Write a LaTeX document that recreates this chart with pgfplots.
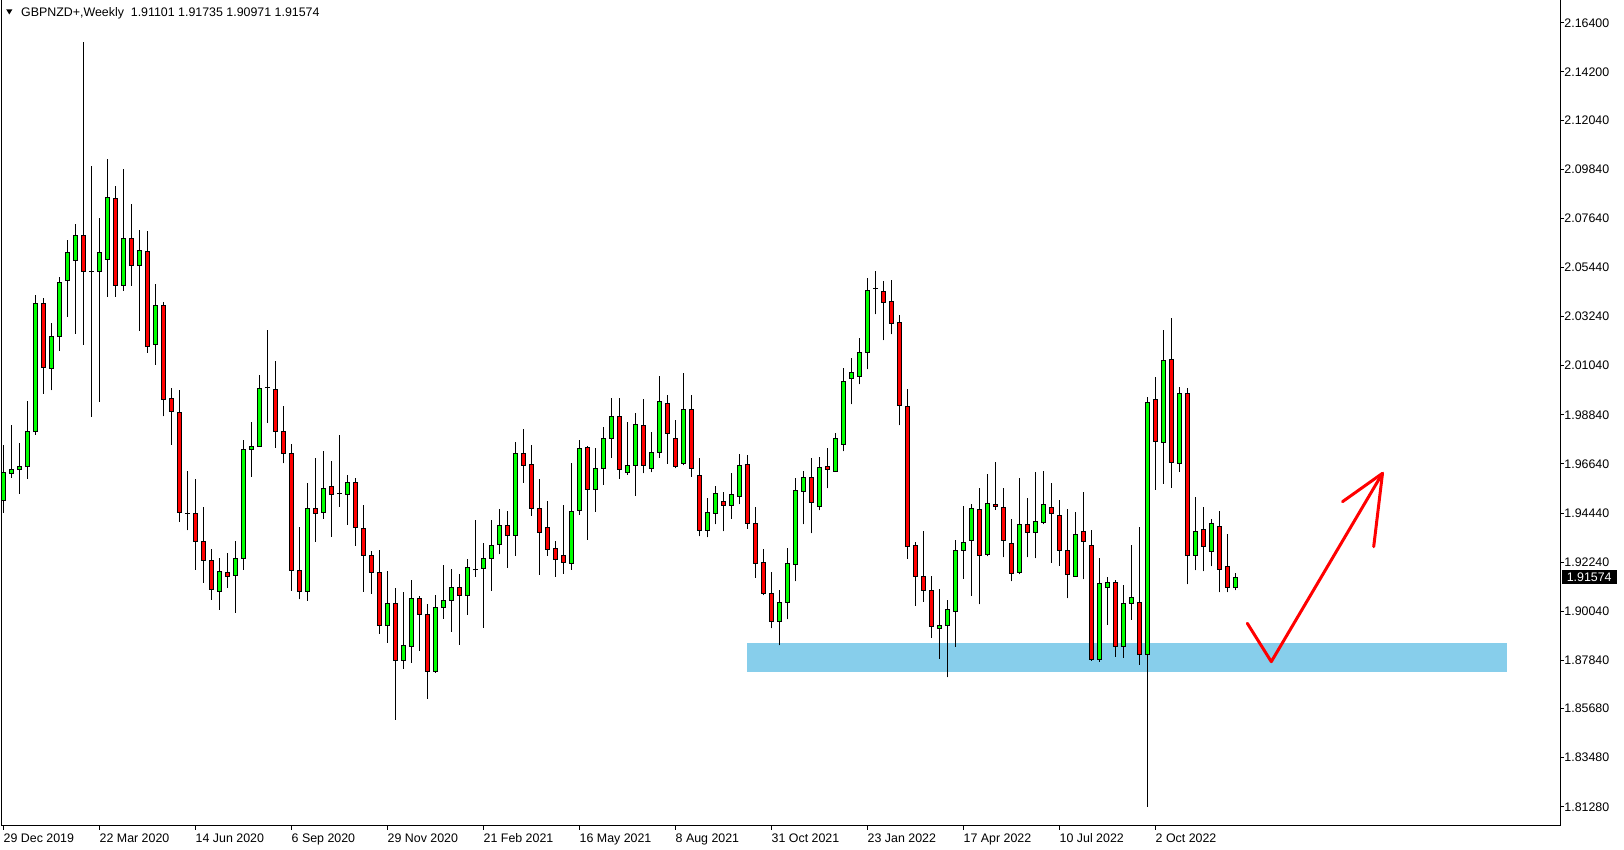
\documentclass[border=0pt]{standalone}
\usepackage{pgfplots}
\pgfplotsset{compat=1.18}
\usepackage{pgfplotstable}
\usepackage{fontspec}
\setmainfont{Liberation Sans}
\definecolor{bull}{RGB}{0,255,0}
\definecolor{bear}{RGB}{255,0,0}
\definecolor{zone}{RGB}{135,206,235}

\pgfplotstableread{
x O H L C
0 1.95007 1.97485 1.94451 1.96254
1 1.96221 1.98378 1.96018 1.96406
2 1.96406 1.97569 1.95310 1.96541
3 1.96524 1.99457 1.95985 1.98092
4 1.98092 2.04210 1.97957 2.03823
5 2.03823 2.04092 1.99794 2.00957
6 2.00924 2.02946 1.99929 2.02356
7 2.02339 2.05003 2.01716 2.04767
8 2.04868 2.06671 2.03233 2.06115
9 2.05761 2.07379 2.02474 2.06874
10 2.06874 2.15538 2.01985 2.05272
11 2.05272 2.09992 1.98749 2.05272
12 2.05272 2.07649 1.99423 2.06115
13 2.05812 2.10295 2.04126 2.08576
14 2.08542 2.09082 2.04126 2.04649
15 2.04649 2.09857 2.04396 2.06739
16 2.06739 2.08290 2.04632 2.05525
17 2.05525 2.07110 2.02609 2.06199
18 2.06166 2.07076 2.01631 2.01918
19 2.02002 2.04699 2.01092 2.03738
20 2.03738 2.03907 1.98766 1.99524
21 1.99575 2.00047 1.97502 1.99002
22 1.98951 1.99946 1.94046 1.94468
23 1.94434 1.96322 1.93659 1.94434
24 1.94428 1.95966 1.91905 1.93174
25 1.93174 1.94712 1.91322 1.92323
26 1.92323 1.92830 1.90561 1.91024
27 1.90934 1.92427 1.90113 1.91830
28 1.91785 1.92651 1.91099 1.91606
29 1.91651 1.93189 1.89979 1.92412
30 1.92412 1.97712 1.91905 1.97294
31 1.97294 1.98519 1.96055 1.97399
32 1.97429 2.00624 1.97429 2.00027
33 2.00057 2.02639 1.98489 2.00057
34 1.99982 2.01251 1.97369 1.98101
35 1.98101 1.99235 1.96667 1.97115
36 1.97115 1.97533 1.90964 1.91875
37 1.91875 1.93816 1.90576 1.90934
38 1.90934 1.95801 1.90516 1.94652
39 1.94652 1.96906 1.93159 1.94428
40 1.94473 1.97220 1.94174 1.95548
41 1.95637 1.96772 1.93383 1.95279
42 1.95309 1.97936 1.94726 1.95309
43 1.95279 1.96145 1.93920 1.95816
44 1.95816 1.95996 1.92980 1.93801
45 1.93756 1.94801 1.90919 1.92547
46 1.92547 1.92726 1.90830 1.91785
47 1.91785 1.92786 1.89038 1.89411
48 1.89411 1.91845 1.88635 1.90397
49 1.90397 1.91084 1.85171 1.87844
50 1.87844 1.90904 1.87471 1.88516
51 1.88471 1.91442 1.87739 1.90621
52 1.90621 1.90710 1.88277 1.89904
53 1.89904 1.90367 1.86127 1.87351
54 1.87351 1.90770 1.87291 1.90218
55 1.90218 1.92114 1.89710 1.90531
56 1.90531 1.91935 1.89128 1.91113
57 1.91113 1.91711 1.88545 1.90755
58 1.90755 1.92382 1.89889 1.92009
59 1.91890 1.94129 1.91591 1.91890
60 1.91964 1.93099 1.89307 1.92412
61 1.92412 1.94129 1.90964 1.92995
62 1.93039 1.94622 1.92592 1.93890
63 1.93890 1.94532 1.91994 1.93443
64 1.93443 1.97623 1.92532 1.97115
65 1.97115 1.98205 1.95801 1.96578
66 1.96623 1.97489 1.94323 1.94652
67 1.94652 1.95966 1.91681 1.93577
68 1.93801 1.94980 1.92532 1.92815
69 1.92861 1.93189 1.91592 1.92368
70 1.92547 1.94802 1.91726 1.92234
71 1.92189 1.96683 1.91905 1.94518
72 1.94563 1.97713 1.94369 1.97340
73 1.97384 1.97429 1.93249 1.95503
74 1.95503 1.97340 1.94503 1.96444
75 1.96444 1.98280 1.95712 1.97788
76 1.97788 1.99594 1.96922 1.98773
77 1.98773 1.99594 1.95981 1.96399
78 1.96265 1.98519 1.96160 1.96578
79 1.96578 1.98922 1.95220 1.98415
80 1.98370 1.99534 1.96220 1.96578
81 1.96444 1.98071 1.96265 1.97160
82 1.97160 2.00579 1.96922 1.99445
83 1.99355 1.99728 1.96653 1.98011
84 1.97788 1.98609 1.96444 1.96533
85 1.96668 2.00714 1.96578 1.99086
86 1.99086 1.99728 1.96071 1.96444
87 1.96130 1.96892 1.93398 1.93667
88 1.93667 1.95100 1.93353 1.94473
89 1.94428 1.95653 1.93936 1.95324
90 1.94966 1.95384 1.93622 1.94787
91 1.94787 1.96220 1.94189 1.95279
92 1.95190 1.97071 1.94831 1.96578
93 1.96623 1.97026 1.93741 1.93980
94 1.93980 1.94697 1.91547 1.92189
95 1.92233 1.92816 1.90755 1.90845
96 1.90845 1.91786 1.89277 1.89591
97 1.89591 1.90979 1.88516 1.90442
98 1.90442 1.92861 1.89680 1.92189
99 1.92144 1.95996 1.91382 1.95458
100 1.95414 1.96309 1.93936 1.96041
101 1.96041 1.96892 1.93532 1.94921
102 1.94742 1.96936 1.94563 1.96489
103 1.96533 1.97340 1.95548 1.96399
104 1.96309 1.98011 1.96309 1.97787
105 1.97519 2.00923 1.97205 2.00340
106 2.00475 2.01371 1.99310 2.00744
107 2.00564 2.02266 2.00206 2.01639
108 2.01639 2.04954 2.00878 2.04416
109 2.04491 2.05267 2.03341 2.04491
110 2.04372 2.04819 2.02177 2.03879
111 2.03924 2.04864 2.02446 2.02938
112 2.02983 2.03297 1.98370 1.99266
113 1.99221 1.99982 1.92398 1.92950
114 1.92980 1.93129 1.90292 1.91606
115 1.91606 1.93637 1.90472 1.90979
116 1.90979 1.91606 1.88859 1.89367
117 1.89277 1.91024 1.87919 1.89412
118 1.89412 1.90531 1.87082 1.90128
119 1.90039 1.93219 1.88456 1.92771
120 1.92771 1.94742 1.91502 1.93129
121 1.93219 1.94831 1.90740 1.94652
122 1.94607 1.95548 1.90352 1.92547
123 1.92592 1.96175 1.92502 1.94876
124 1.94831 1.96712 1.94592 1.94742
125 1.94697 1.95548 1.92457 1.93219
126 1.93084 1.94174 1.91382 1.91741
127 1.91785 1.95996 1.91696 1.93935
128 1.93935 1.95100 1.92457 1.93577
129 1.93577 1.96264 1.92412 1.94070
130 1.94025 1.96309 1.93935 1.94831
131 1.94697 1.95772 1.92218 1.94428
132 1.94338 1.95010 1.92084 1.92771
133 1.92771 1.94607 1.90621 1.91696
134 1.91606 1.94473 1.91606 1.93487
135 1.93622 1.95369 1.91472 1.93174
136 1.92995 1.93681 1.87829 1.87888
137 1.87888 1.92427 1.87784 1.91292
138 1.91113 1.91576 1.89426 1.91337
139 1.91337 1.91427 1.88008 1.88471
140 1.88471 1.91203 1.87963 1.90397
141 1.90397 1.92995 1.89665 1.90665
142 1.90441 1.93801 1.87650 1.88112
143 1.88112 1.99623 1.81289 1.99399
144 1.99534 2.00519 1.95488 1.97653
145 1.97608 2.02624 1.95757 2.01281
146 2.01325 2.03162 1.95577 1.96712
147 1.96667 2.00071 1.96294 1.99803
148 1.99803 2.00027 1.91248 1.92547
149 1.92547 1.95144 1.91875 1.93622
150 1.93711 1.94697 1.91830 1.92950
151 1.92726 1.94159 1.92054 1.93980
152 1.93846 1.94517 1.90889 1.91920
153 1.92054 1.93487 1.90889 1.91113
154 1.91101 1.91735 1.90971 1.91574
}\candles

\pgfplotsset{candlepart/.style={only marks, mark=none, mark size=0pt,
  mark options={draw=none, fill=none}, forget plot}}

\begin{document}
\begin{tikzpicture}
\path[use as bounding box] (-1pt,-12pt) rectangle (811pt,413pt);
\begin{axis}[
  at={(0pt,0pt)}, anchor=south west,
  scale only axis, width=779pt, height=413.5pt,
  xmin=-0.1625, xmax=194.5875, ymin=1.80422, ymax=2.17466,
  axis line style={black, line width=0.5pt},
  xtick={0,12,...,144},
  xticklabels={29 Dec 2019,22 Mar 2020,14 Jun 2020,6 Sep 2020,29 Nov 2020,21 Feb 2021,16 May 2021,8 Aug 2021,31 Oct 2021,23 Jan 2022,17 Apr 2022,10 Jul 2022,2 Oct 2022},
  ytick={2.164,2.142,2.1204,2.0984,2.0764,2.0544,2.0324,2.0104,1.9884,1.9664,1.9444,1.9224,1.9004,1.8784,1.8568,1.8348,1.8128},
  yticklabels={2.16400,2.14200,2.12040,2.09840,2.07640,2.05440,2.03240,2.01040,1.98840,1.96640,1.94440,1.92240,1.90040,1.87840,1.85680,1.83480,1.81280},
  xtick pos=bottom, ytick pos=right,
  tick align=outside,
  major tick length=2pt,
  tick style={black, line width=0.5pt},
  ticklabel style={font=\fontsize{6.2pt}{7pt}\selectfont},
  xticklabel style={anchor=north west, inner sep=0pt, yshift=-1.5pt},
  yticklabel style={anchor=west, inner sep=0pt},
  clip=true,
]
% support zone
\addplot[fill=zone, draw=none, forget plot] coordinates {(92.96,1.87334) (187.96,1.87334) (187.96,1.88620) (92.96,1.88620)} -- cycle;
% wicks
\addplot[candlepart,
  error bars/.cd, y dir=plus, y explicit, error mark=none,
  error bar style={draw=black, line width=0.55pt}]
  table[x=x, y=L, y error plus expr=\thisrow{H}-\thisrow{L}] {\candles};
% body outlines
\addplot[candlepart,
  error bars/.cd, y dir=plus, y explicit, error mark=none,
  error bar style={draw=black, line width=2.4pt}]
  table[x=x, y expr={min(\thisrow{O},\thisrow{C})-0.000224}, y error plus expr={abs(\thisrow{C}-\thisrow{O})+0.000448}] {\candles};
% bull bodies
\addplot[candlepart,
  restrict expr to domain={\thisrow{C}-\thisrow{O}}{0.00045:1},
  error bars/.cd, y dir=plus, y explicit, error mark=none,
  error bar style={draw=bull, line width=1.4pt}]
  table[x=x, y expr={\thisrow{O}+0.000224}, y error plus expr={\thisrow{C}-\thisrow{O}-0.000448}] {\candles};
% bear bodies
\addplot[candlepart,
  restrict expr to domain={\thisrow{O}-\thisrow{C}}{0.00045:1},
  error bars/.cd, y dir=plus, y explicit, error mark=none,
  error bar style={draw=bear, line width=1.4pt}]
  table[x=x, y expr={\thisrow{C}+0.000224}, y error plus expr={\thisrow{O}-\thisrow{C}-0.000448}] {\candles};
% red arrow annotation
\addplot[red, line width=1.5pt, line cap=round, line join=round, forget plot] coordinates {(155.5,1.89502) (158.5,1.87782) (172.4,1.96221)};
\addplot[red, line width=1.5pt, line cap=round, line join=round, forget plot] coordinates {(167.4,1.94949) (172.4,1.96221) (171.3,1.92933)};
\coordinate (cp) at (axis cs:194.5875,1.91574);
\end{axis}
\node[anchor=west, fill=black, text=white, inner xsep=2.6pt, inner ysep=1.4pt, font=\fontsize{6.2pt}{7pt}\selectfont] at ([xshift=0.6pt]cp) {1.91574};
\fill (2.1pt,408.35pt) -- (5.2pt,408.35pt) -- (3.65pt,405.75pt) -- cycle;
\node[anchor=base west, inner sep=0pt, font=\fontsize{6.2pt}{7pt}\selectfont] at (9.4pt,404.6pt) {GBPNZD+,Weekly\ \ 1.91101 1.91735 1.90971 1.91574};
\end{tikzpicture}
\end{document}
